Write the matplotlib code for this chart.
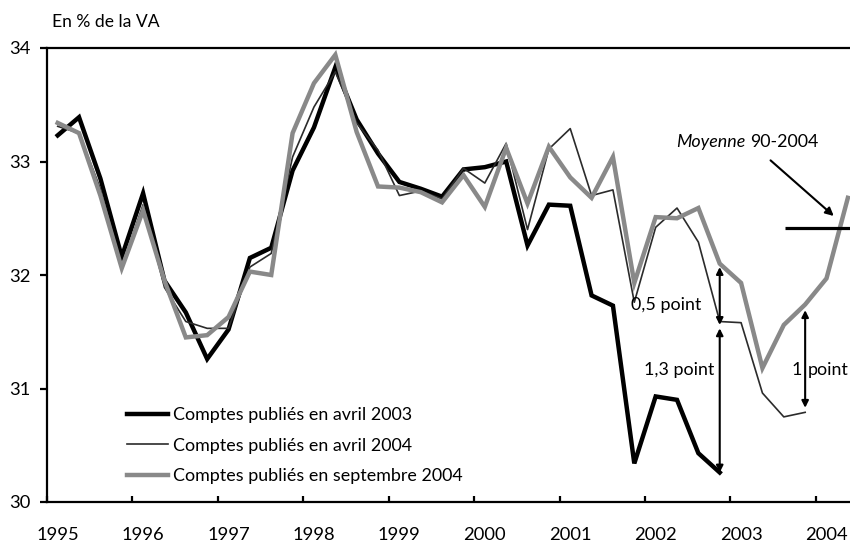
import numpy as np
import matplotlib
matplotlib.use("Agg")
import matplotlib.pyplot as plt

plt.rcParams['font.family'] = ['Lato', 'DejaVu Sans']

# Quarterly data, 1995Q1 onwards (% of value added)
avril_2003 = [33.23, 33.39, 32.85, 32.16, 32.72, 31.95, 31.67, 31.26, 31.52, 32.15,
              32.24, 32.92, 33.30, 33.83, 33.37, 33.07, 32.82, 32.76, 32.69, 32.93,
              32.95, 33.00, 32.26, 32.62, 32.61, 31.82, 31.73, 30.34, 30.93, 30.90,
              30.43, 30.26]
avril_2004 = [33.31, 33.25, 32.76, 32.07, 32.62, 31.89, 31.59, 31.53, 31.53, 32.07,
              32.19, 33.04, 33.48, 33.79, 33.34, 33.10, 32.70, 32.74, 32.67, 32.94,
              32.81, 33.16, 32.40, 33.11, 33.29, 32.70, 32.75, 31.76, 32.42, 32.59,
              32.29, 31.59, 31.58, 30.96, 30.75, 30.79]
sept_2004 = [33.34, 33.25, 32.70, 32.06, 32.57, 31.95, 31.45, 31.47, 31.63, 32.03,
             32.00, 33.25, 33.69, 33.94, 33.26, 32.78, 32.77, 32.73, 32.64, 32.88,
             32.60, 33.12, 32.63, 33.13, 32.86, 32.68, 33.04, 31.93, 32.51, 32.50,
             32.59, 32.10, 31.93, 31.18, 31.56, 31.74, 31.97, 32.68]
moyenne = 32.41
years = list(range(1995, 2005))
labels = ["Comptes publiés en avril 2003", "Comptes publiés en avril 2004",
          "Comptes publiés en septembre 2004"]

def qx(n):
    return 1995 + (np.arange(n) + 0.5) / 4

FS = 12.9

fig = plt.figure(figsize=(8.5, 5.42), dpi=100)
ax = fig.add_axes([47/850, 1 - 502/542, 1 - 47/850, (502 - 48)/542])

ax.plot(qx(len(avril_2003)), avril_2003, color='black', lw=3.2, label=labels[0],
        solid_joinstyle='miter')
ax.plot(qx(len(avril_2004)), avril_2004, color='#2b2b2b', lw=1.2, label=labels[1])
ax.plot(qx(len(sept_2004)), sept_2004, color='#898989', lw=3.2, label=labels[2],
        solid_joinstyle='miter')

ax.set_xlim(1995, 2004.40)
ax.set_ylim(30, 34)

# average line
ax.plot([2003.64, 2004.40], [moyenne, moyenne], color='black', lw=2.3, solid_capstyle='butt')
ax.text(2002.37, 33.17, "Moyenne", fontstyle='italic', fontsize=FS, ha='left', va='center')
ax.text(2003.23, 33.17, "90-2004", fontsize=FS, ha='left', va='center')
ax.annotate("", xy=(2004.21, 32.52), xytext=(2003.47, 33.01),
            arrowprops=dict(arrowstyle='-|>', color='black', lw=1.5, mutation_scale=12,
                            shrinkA=0, shrinkB=0))

# difference arrows
xq = qx(len(sept_2004))
i1 = len(avril_2003) - 1
i2 = len(avril_2004) - 1
arr = dict(arrowstyle='<|-|>', color='black', lw=1.5, mutation_scale=10, shrinkA=0, shrinkB=0)
ax.annotate("", xy=(xq[i1], sept_2004[i1] - 0.03), xytext=(xq[i1], avril_2004[i1] - 0.03), arrowprops=arr)
ax.annotate("", xy=(xq[i1], avril_2004[i1] - 0.06), xytext=(xq[i1], avril_2003[i1]), arrowprops=arr)
ax.annotate("", xy=(xq[i2], sept_2004[i2] - 0.05), xytext=(xq[i2], avril_2004[i2] + 0.04), arrowprops=arr)
ax.text(xq[i1] - 0.22, 31.74, "0,5 point", fontsize=FS, ha='right', va='center')
ax.text(xq[i1] - 0.06, 31.16, "1,3 point", fontsize=FS, ha='right', va='center')
ax.text(xq[i2] - 0.16, 31.16, "1", fontsize=FS, ha='left', va='center')
ax.text(xq[i2] + 0.03, 31.16, "point", fontsize=FS, ha='left', va='center')

# axes styling
for s in ['left', 'bottom', 'top']:
    ax.spines[s].set_linewidth(1.6)
ax.spines['right'].set_visible(False)
ax.set_yticks([30, 31, 32, 33, 34])
ax.tick_params(axis='y', direction='out', length=5, width=1.6, labelsize=FS + 0.3, pad=7)
ax.set_xticks(years)
ax.set_xticklabels([])
ax.tick_params(axis='x', which='major', direction='in', length=4, width=1.6)
ax.set_xticks([y + 0.125 for y in years], minor=True)
ax.set_xticklabels([str(y) for y in years], minor=True)
ax.tick_params(axis='x', which='minor', length=0, labelsize=FS + 0.3, pad=18)

fig.text(52/850, 1 - 22/542, "En % de la VA", fontsize=FS - 0.3, ha='left', va='center')

ax.legend(loc='upper left', bbox_to_anchor=(80/803, (502 - 407)/454), frameon=False,
          fontsize=FS, handlelength=2.3, handletextpad=0.25, labelspacing=0.82,
          borderaxespad=0, borderpad=0)

fig.savefig("out.png", dpi=100)
